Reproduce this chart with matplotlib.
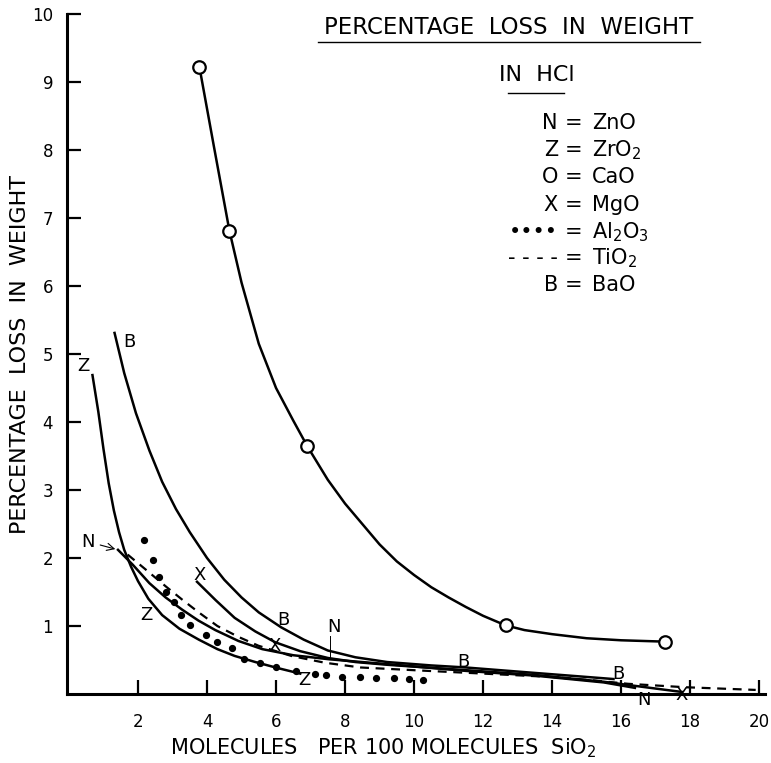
import matplotlib
matplotlib.use('Agg')
import matplotlib.pyplot as plt

# values
cao_curve_x = [3.78, 4.2, 4.65, 5.0, 5.5, 6.0, 6.5, 6.91, 7.5, 8.0, 8.5, 9.0, 9.5, 10.0, 10.5,
               11.0, 11.5, 12.0, 12.65, 13.2, 14.0, 15.0, 16.0, 17.27]
cao_curve_y = [9.22, 8.05, 6.81, 6.05, 5.15, 4.5, 4.02, 3.64, 3.15, 2.8, 2.5, 2.2, 1.95, 1.75, 1.57,
               1.42, 1.28, 1.15, 1.01, 0.94, 0.88, 0.82, 0.79, 0.77]
cao_pts_x = [3.78, 4.65, 6.91, 12.65, 17.27]
cao_pts_y = [9.22, 6.81, 3.64, 1.01, 0.77]

bao_x = [1.32, 1.6, 1.94, 2.33, 2.7, 3.1, 3.5, 4.0, 4.5, 5.0, 5.5, 6.15, 6.8, 7.5, 8.3, 9.22,
         10.5, 11.5, 13.5, 15.78]
bao_y = [5.31, 4.72, 4.13, 3.58, 3.12, 2.72, 2.38, 2.0, 1.68, 1.42, 1.2, 0.98, 0.8, 0.64, 0.54,
         0.47, 0.42, 0.39, 0.31, 0.22]

zro2_x = [0.68, 0.85, 1.0, 1.15, 1.3, 1.45, 1.6, 1.8, 2.0, 2.3, 2.7, 3.2, 3.76, 4.3, 4.8, 5.4,
          6.06, 6.7]
zro2_y = [4.69, 4.15, 3.6, 3.1, 2.7, 2.38, 2.12, 1.87, 1.66, 1.4, 1.16, 0.96, 0.8, 0.66, 0.56,
          0.47, 0.38, 0.3]

mgo_x = [3.71, 4.25, 4.8, 5.4, 5.98, 6.7, 7.5, 8.3, 9.22, 11.5, 13.5, 15.5, 17.0, 17.76]
mgo_y = [1.65, 1.38, 1.12, 0.92, 0.76, 0.63, 0.53, 0.47, 0.43, 0.35, 0.28, 0.18, 0.08, 0.03]

zno_x = [1.42, 1.85, 2.33, 2.8, 3.28, 3.75, 4.24, 4.91, 5.6, 6.5, 7.55, 9.2, 11.5, 13.5, 15.5, 16.4]
zno_y = [2.12, 1.9, 1.63, 1.42, 1.24, 1.08, 0.94, 0.78, 0.66, 0.57, 0.51, 0.44, 0.34, 0.27, 0.17, 0.09]

tio2_x = [1.7, 2.2, 2.81, 3.3, 3.76, 4.3, 4.91, 5.49, 6.44, 7.41, 8.45, 10.0, 12.0, 14.0, 15.2,
          16.2, 17.84, 19.9]
tio2_y = [2.05, 1.84, 1.58, 1.38, 1.2, 1.0, 0.84, 0.71, 0.56, 0.46, 0.39, 0.35, 0.3, 0.25, 0.2,
          0.15, 0.10, 0.06]

al2o3_x = [2.17, 2.42, 2.61, 2.81, 3.05, 3.24, 3.52, 3.96, 4.29, 4.72, 5.06, 5.54, 6.0, 6.58,
           7.12, 7.45, 7.91, 8.42, 8.9, 9.42, 9.86, 10.26]
al2o3_y = [2.26, 1.97, 1.72, 1.5, 1.36, 1.16, 1.01, 0.87, 0.77, 0.67, 0.52, 0.46, 0.40, 0.34,
           0.30, 0.28, 0.25, 0.25, 0.23, 0.23, 0.22, 0.21]

# letters written next to the curves
curve_labels = ['Z', 'B', 'Z', 'X', 'X', 'B', 'N', 'Z', 'B', 'B', 'N', 'X']
label_x = [0.41, 1.75, 2.23, 3.8, 5.97, 6.21, 7.69, 6.83, 11.44, 15.93, 16.65, 17.75]
label_y = [4.82, 5.18, 1.16, 1.75, 0.70, 1.09, 0.99, 0.21, 0.47, 0.30, -0.09, -0.01]

x_ticks = [2, 4, 6, 8, 10, 12, 14, 16, 18, 20]
y_ticks = [1, 2, 3, 4, 5, 6, 7, 8, 9, 10]

legend_sym = ['N', 'Z', 'O', 'X', '••••', '- - - -', 'B']
legend_name = ['ZnO', 'ZrO$_2$', 'CaO', 'MgO', 'Al$_2$O$_3$', 'TiO$_2$', 'BaO']


def main():
	plt.rcParams['font.family'] = ['DejaVu Sans']
	fig = plt.figure(figsize=(7.71, 7.63), dpi=100)
	ax = fig.add_axes([67 / 771, 69 / 763, 698 / 771, 680 / 763])
	ax.set_xlim(-0.058, 20.17)
	ax.set_ylim(0, 10)

	k = 'black'
	lw = 1.8
	ax.plot(cao_curve_x, cao_curve_y, color=k, lw=lw)
	ax.plot(cao_pts_x, cao_pts_y, 'o', ms=9, mfc='white', mec=k, mew=1.6)
	ax.plot(bao_x, bao_y, color=k, lw=lw)
	ax.plot(zro2_x, zro2_y, color=k, lw=lw)
	ax.plot(mgo_x, mgo_y, color=k, lw=lw)
	ax.plot(zno_x, zno_y, color=k, lw=lw)
	ax.plot(tio2_x, tio2_y, color=k, lw=1.6, ls=(0, (4, 3)))
	ax.plot(al2o3_x, al2o3_y, 'o', color=k, ms=4.2, ls='none')

	for s, x, y in zip(curve_labels, label_x, label_y):
		ax.text(x, y, s, fontsize=13, ha='center', va='center', clip_on=False)

	# arrow and pointer for the N curve
	ax.annotate('N', xy=(zno_x[0], zno_y[0]), xytext=(0.55, 2.24), fontsize=13,
		ha='center', va='center', arrowprops=dict(arrowstyle='->', lw=0.8, color=k))
	ax.plot([7.55, 7.55], [0.53, 0.85], color=k, lw=0.7)

	for side in ['top', 'right']:
		ax.spines[side].set_visible(False)
	for side in ['left', 'bottom']:
		ax.spines[side].set_linewidth(2.2)
	ax.set_xticks(x_ticks)
	ax.set_yticks(y_ticks)
	ax.set_xticklabels([str(t) for t in x_ticks], fontsize=12)
	ax.set_yticklabels([str(t) for t in y_ticks], fontsize=12)
	ax.tick_params(axis='both', direction='in', length=10, width=1.6)
	ax.tick_params(axis='x', pad=14)
	ax.tick_params(axis='y', pad=10)

	ax.set_xlabel('MOLECULES   PER 100 MOLECULES  SiO$_2$', fontsize=15)
	ax.xaxis.set_label_coords(0.453, -0.063)
	ax.set_ylabel('PERCENTAGE  LOSS  IN  WEIGHT', fontsize=16)
	ax.yaxis.set_label_coords(-0.053, 0.5)

	fig.text(509 / 771, 1 - 27 / 763, 'PERCENTAGE  LOSS  IN  WEIGHT', fontsize=16.5,
		ha='center', va='center')
	fig.add_artist(plt.Line2D([318 / 771, 700 / 771], [1 - 42 / 763, 1 - 42 / 763], color=k, lw=1))
	fig.text(537 / 771, 1 - 75 / 763, 'IN  HCl', fontsize=16, ha='center', va='center')
	fig.add_artist(plt.Line2D([508 / 771, 564 / 771], [1 - 93 / 763, 1 - 93 / 763], color=k, lw=1))

	ys = [123, 150, 177, 205, 232, 258, 285]
	for s, n, y in zip(legend_sym, legend_name, ys):
		fig.text(558 / 771, 1 - y / 763, s, fontsize=15, ha='right', va='center')
		fig.text(574 / 771, 1 - y / 763, '=', fontsize=15, ha='center', va='center')
		fig.text(592 / 771, 1 - y / 763, n, fontsize=15, ha='left', va='center')

	plt.savefig('out.png', dpi=100)


if __name__ == '__main__':
	main()
